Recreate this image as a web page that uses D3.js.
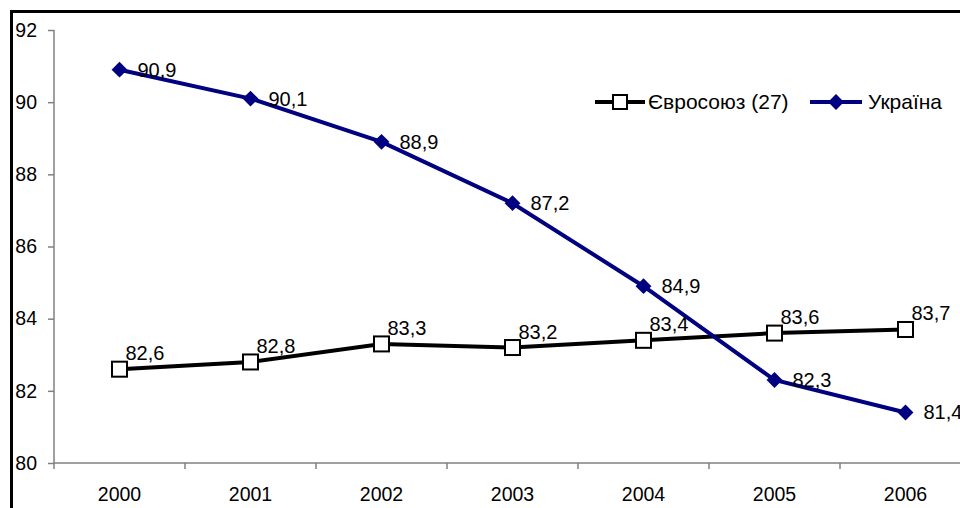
<!DOCTYPE html>
<html>
<head>
<meta charset="utf-8">
<script src="https://cdn.jsdelivr.net/npm/d3@7"></script>
<style>
  body { margin: 0; background: #fff; overflow: hidden; }
  #wrap { position: relative; width: 960px; height: 508px; overflow: hidden; }
  #frame { position: absolute; left: 10px; top: 10px; width: 1000px; height: 600px;
           border-left: 3px solid #000; border-top: 3px solid #000; }
  svg { position: absolute; left: 0; top: 0; }
  svg text { font-family: Arial, "Liberation Sans", sans-serif; fill: #000; }
</style>
</head>
<body>
<div id="wrap">
<div id="frame"></div>
<svg width="960" height="508"></svg>
</div>
<script>
// chart data
var years = ["2000", "2001", "2002", "2003", "2004", "2005", "2006"];
var euValues = [82.6, 82.8, 83.3, 83.2, 83.4, 83.6, 83.7];
var uaValues = [90.9, 90.1, 88.9, 87.2, 84.9, 82.3, 81.4];
var seriesNames = ["Євросоюз (27)", "Україна"];
var yTicks = [80, 82, 84, 86, 88, 90, 92];

var svg = d3.select('svg');

var padding = {l: 54, t: 30};
var catWidth = 131;
var chartHeight = 433;

var xScale = d3.scaleBand()
    .domain(years)
    .range([padding.l, padding.l + catWidth * years.length]);

var yScale = d3.scaleLinear()
    .domain([80, 92])
    .range([padding.t + chartHeight, padding.t]);

function fmt(v) { return d3.format('.1f')(v).replace('.', ','); }

// frame lines inside the svg too
svg.append('line').attr('x1', 11.5).attr('x2', 11.5).attr('y1', 10).attr('y2', 508)
    .attr('stroke', '#000').attr('stroke-width', 3);
svg.append('line').attr('x1', 10).attr('x2', 960).attr('y1', 11.5).attr('y2', 11.5)
    .attr('stroke', '#000').attr('stroke-width', 3);

// y axis
var yAxis = svg.append('g')
    .attr('transform', 'translate(' + padding.l + ',0)')
    .call(d3.axisLeft(yScale).tickValues(yTicks).tickSize(6).tickPadding(11).tickFormat(d3.format('d')));
yAxis.attr('font-size', null).attr('font-family', null);
yAxis.selectAll('text').style('font-size', '19.5px');
yAxis.selectAll('path, line').style('stroke', '#808080').style('stroke-width', 1.5);
yAxis.select('.domain').attr('d', 'M0,' + yScale(92) + 'V' + yScale(80));

// x axis: ticks between categories
var xAxisG = svg.append('g')
    .attr('transform', 'translate(0,' + yScale(80) + ')');
xAxisG.append('line')
    .attr('x1', padding.l).attr('x2', xScale.range()[1])
    .style('stroke', '#808080').style('stroke-width', 1.5);
xAxisG.selectAll('.sep')
    .data(d3.range(years.length + 1))
    .enter().append('line')
    .attr('x1', function(i) { return padding.l + i * xScale.step(); })
    .attr('x2', function(i) { return padding.l + i * xScale.step(); })
    .attr('y1', 0).attr('y2', 6)
    .style('stroke', '#808080').style('stroke-width', 1.5);
xAxisG.selectAll('.lbl')
    .data(years)
    .enter().append('text')
    .attr('x', function(d) { return xScale(d) + xScale.bandwidth() / 2; })
    .attr('y', 38)
    .attr('text-anchor', 'middle')
    .style('font-size', '19.5px')
    .text(function(d) { return d; });

var cx = function(d, i) { return xScale(years[i]) + xScale.bandwidth() / 2; };

var line = d3.line()
    .x(function(d, i) { return cx(d, i); })
    .y(function(d) { return yScale(d); });

// EU series
svg.append('path')
    .datum(euValues)
    .attr('d', line)
    .style('fill', 'none')
    .style('stroke', '#000')
    .style('stroke-width', 4);

// Ukraine series
svg.append('path')
    .datum(uaValues)
    .attr('d', line)
    .style('fill', 'none')
    .style('stroke', '#000080')
    .style('stroke-width', 4);

svg.selectAll('.sq')
    .data(euValues)
    .enter().append('rect')
    .attr('x', function(d, i) { return cx(d, i) - 7.5; })
    .attr('y', function(d) { return yScale(d) - 7.5; })
    .attr('width', 15).attr('height', 15)
    .style('fill', '#fff')
    .style('stroke', '#000')
    .style('stroke-width', 2);

var diamond = d3.symbol().type(d3.symbolDiamond2).size(160);
svg.selectAll('.dm')
    .data(uaValues)
    .enter().append('path')
    .attr('d', diamond)
    .attr('transform', function(d, i) { return 'translate(' + cx(d, i) + ',' + yScale(d) + ')'; })
    .style('fill', '#000080');

// data labels
svg.selectAll('.eulbl')
    .data(euValues)
    .enter().append('text')
    .attr('x', function(d, i) { return cx(d, i) + 6; })
    .attr('y', function(d) { return yScale(d) - 9; })
    .style('font-size', '20px')
    .text(fmt);

svg.selectAll('.ualbl')
    .data(uaValues)
    .enter().append('text')
    .attr('x', function(d, i) { return cx(d, i) + 18; })
    .attr('y', function(d) { return yScale(d) + 7; })
    .style('font-size', '20px')
    .text(fmt);

// legend
var legend = svg.append('g').attr('transform', 'translate(595,102)');
legend.append('line').attr('x1', 0).attr('x2', 50)
    .style('stroke', '#000').style('stroke-width', 4);
legend.append('rect').attr('x', 18).attr('y', -7).attr('width', 14).attr('height', 14)
    .style('fill', '#fff').style('stroke', '#000').style('stroke-width', 2);
legend.append('text').attr('x', 53).attr('y', 7).style('font-size', '21px').text(seriesNames[0]);
legend.append('line').attr('x1', 215).attr('x2', 267)
    .style('stroke', '#000080').style('stroke-width', 4);
legend.append('path').attr('d', diamond).attr('transform', 'translate(241,0)')
    .style('fill', '#000080');
legend.append('text').attr('x', 273).attr('y', 7).style('font-size', '21px').text(seriesNames[1]);
</script>
</body>
</html>
